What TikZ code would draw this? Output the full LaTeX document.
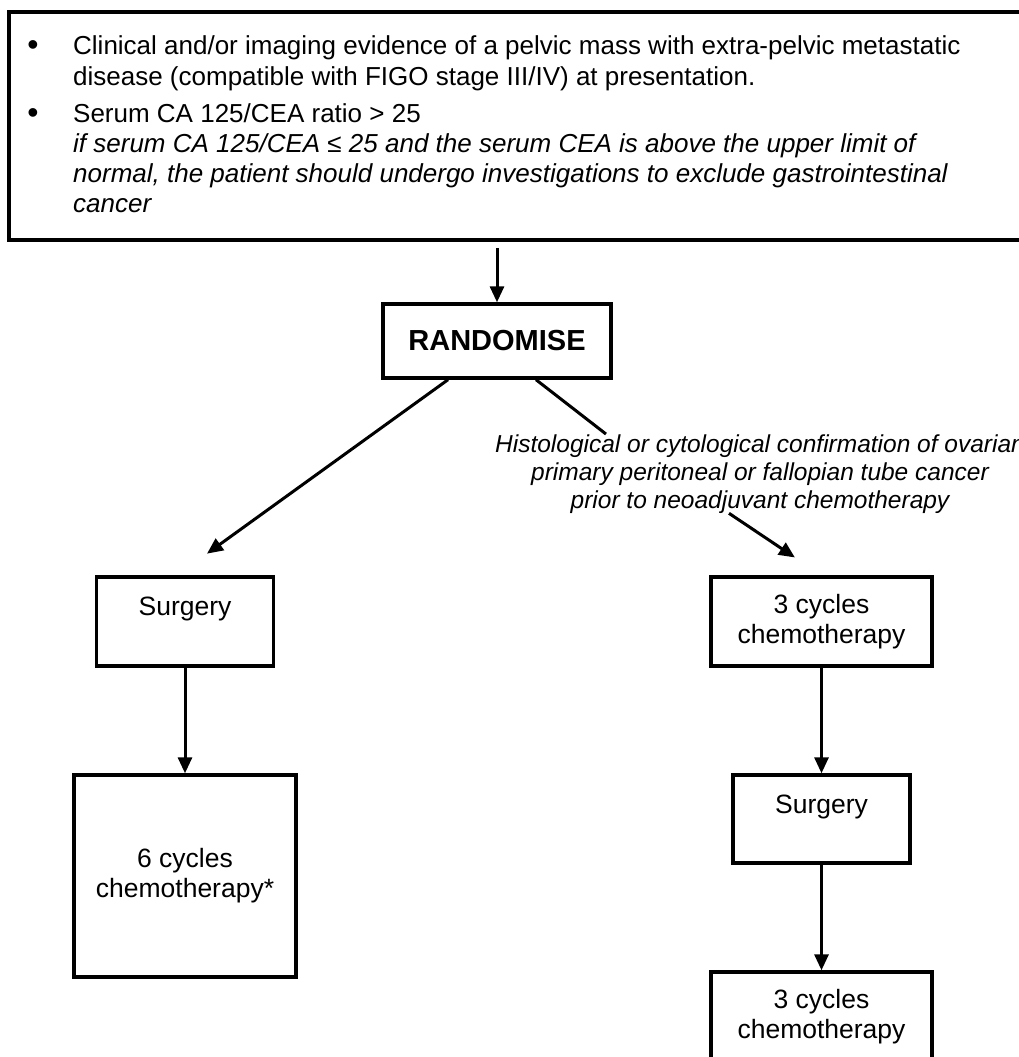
\documentclass[tikz,border=0pt]{standalone}
\usepackage{fontspec}
\setmainfont{Liberation Sans}
\usetikzlibrary{arrows.meta}
\newcommand\topfnt{\fontsize{26}{30}\selectfont}
\newcommand\bulfnt{\fontsize{32}{30}\selectfont}
\newcommand\bxfnt{\fontsize{26.5}{30}\selectfont}
\newcommand\labfnt{\fontsize{24.5}{28}\selectfont\itshape}
\newcommand\randfnt{\fontsize{29}{32}\selectfont\bfseries}
\tikzset{
  boxnode/.style={draw, line width=3.4pt, align=center, inner sep=0pt, font=\bxfnt},
  arr/.style={line width=3pt, -{Triangle[length=16pt,width=14pt]}},
  plain/.style={line width=3pt},
  tline/.style={anchor=base west, inner sep=0pt, font=\topfnt},
  tlineit/.style={anchor=base west, inner sep=0pt, font=\topfnt\itshape},
  bul/.style={anchor=base, inner sep=0pt, font=\bulfnt},
  lab/.style={anchor=base, inner sep=0pt, font=\labfnt},
}
\begin{document}
\begin{tikzpicture}[x=1pt, y=-1pt]
\useasboundingbox (0,0) rectangle (1019,1057);
\fill[white] (0,0) rectangle (1019,1057);
\clip (0,0) rectangle (1019,1057);

% criteria box
\node[draw, line width=3.6pt, minimum width=1021pt, minimum height=228pt, inner sep=0pt] (crit) at (519.5,126) {};
\node[bul] (b1) at (33,56) {•};
\node[tline] (t1) at (73,55) {Clinical and/or imaging evidence of a pelvic mass with extra-pelvic metastatic};
\node[tline] (t2) at (73,85) {disease (compatible with FIGO stage III/IV) at presentation.};
\node[bul] (b2) at (33,123) {•};
\node[tline] (t3) at (73,122) {Serum CA 125/CEA ratio > 25};
\node[tlineit] (t4) at (73,152) {if serum CA 125/CEA ≤ 25 and the serum CEA is above the upper limit of};
\node[tlineit] (t5) at (73,182) {normal, the patient should undergo investigations to exclude gastrointestinal};
\node[tlineit] (t6) at (73,212) {cancer};

% randomise
\node[draw, line width=3.4pt, minimum width=228pt, minimum height=74pt, inner sep=0pt, font=\randfnt] (rand) at (497,341) {RANDOMISE};

% label
\node[lab] (lab1) at (760,452) {Histological or cytological confirmation of ovarian};
\node[lab] (lab2) at (760,480) {primary peritoneal or fallopian tube cancer};
\node[lab] (lab3) at (760,508) {prior to neoadjuvant chemotherapy};

% left arm
\node[boxnode, minimum width=177pt, minimum height=89pt] (s1) at (185,621.5) {Surgery\\~};
\node[boxnode, minimum width=222pt, minimum height=202pt] (c6) at (185,876) {6 cycles\\chemotherapy*};

% right arm
\node[boxnode, minimum width=221pt, minimum height=89pt] (c1) at (821.5,621.5) {3 cycles\\chemotherapy};
\node[boxnode, minimum width=177pt, minimum height=88pt] (s2) at (821.5,819) {Surgery\\~};
\node[boxnode, minimum width=221pt, minimum height=89pt] (c2) at (821.5,1016.5) {3 cycles\\chemotherapy};

% connectors
\draw[arr] ([yshift=-6pt]crit.south -| rand.north) -- (rand.north);
\draw[arr, shorten >=37pt] ([xshift=-49pt]rand.south) -- ([xshift=-8pt]s1.north);
\draw[plain] ([xshift=39pt]rand.south) -- ([xshift=-154pt]lab1.north);
\draw[arr, shorten >=32pt] ([xshift=-31pt]lab3.south) -- (c1.north);
\draw[arr] (s1.south) -- (c6.north);
\draw[arr] (c1.south) -- (s2.north);
\draw[arr] (s2.south) -- (c2.north);
\end{tikzpicture}
\end{document}
